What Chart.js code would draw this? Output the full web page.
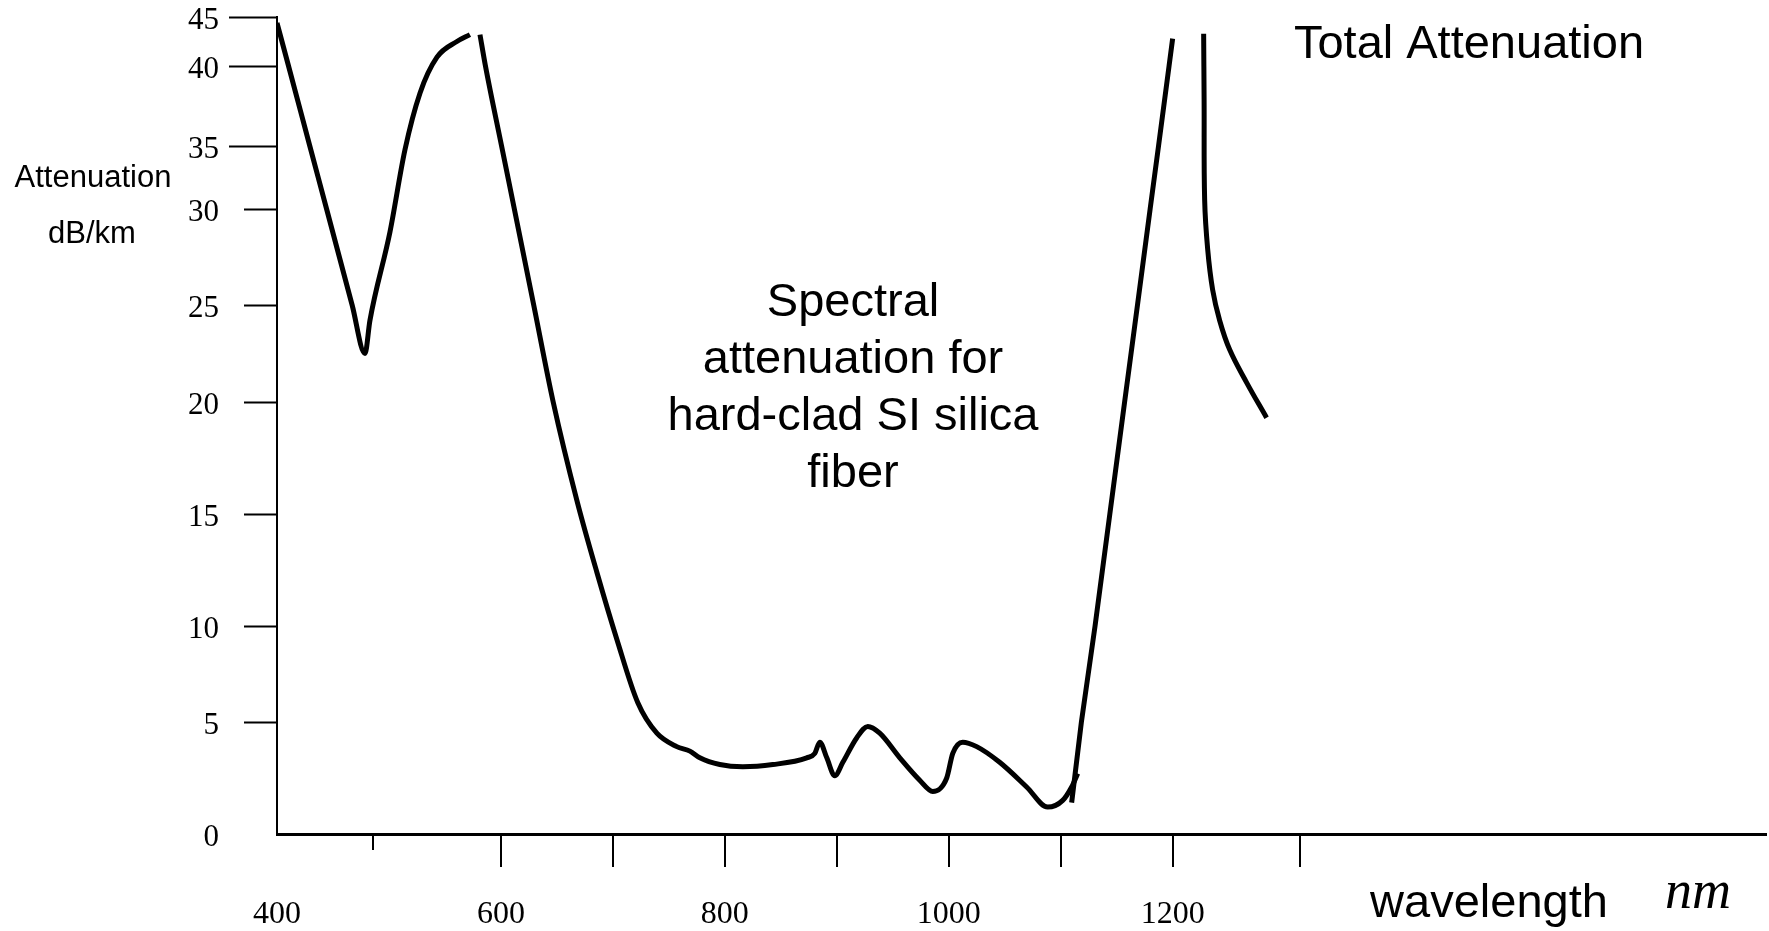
<!DOCTYPE html>
<html>
<head>
<meta charset="utf-8">
<script src="https://cdn.jsdelivr.net/npm/chart.js@4/dist/chart.umd.min.js"></script>
<style>
  html, body { margin: 0; padding: 0; background: #fff; }
  canvas { display: block; }
</style>
</head>
<body>
<canvas id="chart" width="1769" height="931"></canvas>
<script>
// values: wavelength in nm, attenuation in dB/km
const uvWavelength = [400, 410.3, 429.3, 444.3, 467.1, 478.6, 483, 500.9, 514.3, 527.7, 542.9, 560.7, 572.3]
const uvAttenuation = [44.4, 40, 35, 30, 25, 22.5, 24.2, 28.8, 34.7, 38.3, 40.9, 42.5, 43.2]

const mainWavelength = [581.3, 586.2, 600.6, 612, 629.3, 646.7, 667.9, 685.7, 703.6, 722.3, 739.3, 757.1,
  768.8, 777.7, 795.5, 816.1, 842.9, 873.2, 880.4, 884.8, 891.1, 898.2, 905.4, 917.9, 927.7, 938.4,
  956.3, 974.1, 985.7, 998.2, 1003.6, 1012.5, 1025, 1045.5, 1069.6, 1088.4, 1101.8, 1109.8, 1115.2]
const mainAttenuation = [43.2, 40, 35, 30, 25, 20, 15.6, 12.4, 9.3, 6.0, 4.5, 3.9,
  3.7, 3.4, 3.1, 3.0, 3.1, 3.4, 3.6, 4.1, 3.4, 2.6, 3.2, 4.3, 4.8, 4.5,
  3.4, 2.4, 1.9, 2.5, 3.6, 4.1, 3.9, 3.2, 2.1, 1.2, 1.5, 2.1, 2.7]

const irWavelength = [1109.8, 1118.5, 1130.7, 1143.9, 1157.1, 1168.6, 1179.9, 1187.4, 1196.8, 1200]
const irAttenuation = [1.4, 5, 10, 15, 20, 25, 30, 35, 40, 42.8]

const ohWavelength = [1227.7, 1228.1, 1228.6, 1231.3, 1235.7, 1242, 1250.9, 1266.1, 1283.9]
const ohAttenuation = [43.3, 37.9, 30.7, 27.9, 25.8, 24.2, 22.7, 21, 19.3]

const yTicks = [0, 5, 10, 15, 20, 25, 30, 35, 40, 45]
const xLabels = [400, 600, 800, 1000, 1200]
const xTickMarks = [486, 600, 700, 800, 900, 1000, 1100, 1200, 1314]

// the hand-drawn y axis is not evenly spaced: where each tick sits, as a fraction of the axis
const yAxisStops = [0, 0.1371, 0.2546, 0.3917, 0.5288, 0.6475, 0.765, 0.8421, 0.94, 1]

const interp = (v, from, to) => {
  let i = 1
  while (i < from.length - 1 && v > from[i]) i++
  const t = (v - from[i - 1]) / (from[i] - from[i - 1])
  return to[i - 1] + t * (to[i] - to[i - 1])
}

class WarpedScale extends Chart.LinearScale {
  static id = 'warped'
  getPixelForValue (value) {
    if (value === null || value === undefined) return NaN
    return this.getPixelForDecimal(interp(value, yTicks, yAxisStops))
  }
  getValueForPixel (pixel) {
    return interp(this.getDecimalForPixel(pixel), yAxisStops, yTicks)
  }
}
Chart.register(WarpedScale)

const toPoints = (xs, ys) => xs.map((x, i) => ({ x, y: ys[i] }))

// mode: 'monotone', 'spline' or 'straight'
const curve = (label, xs, ys, mode = 'monotone') => ({
  label,
  data: toPoints(xs, ys),
  borderColor: '#000',
  borderWidth: 5,
  pointRadius: 0,
  fill: false,
  tension: mode === 'straight' ? 0 : 0.4,
  cubicInterpolationMode: mode === 'monotone' ? 'monotone' : 'default'
})

// tick marks of the figure do not line up with its labels, so they are drawn apart
const tickMarks = {
  id: 'tickMarks',
  afterDraw (chart) {
    const { ctx, scales: { x, y } } = chart
    ctx.save()
    ctx.strokeStyle = '#000'
    ctx.lineWidth = 2
    ctx.beginPath()
    yTicks.forEach(v => {
      if (v === 0) return
      const py = Math.round(y.getPixelForValue(v)) + 0.5
      const len = v >= 35 ? 48 : 33
      ctx.moveTo(y.right - len, py)
      ctx.lineTo(y.right, py)
    })
    xTickMarks.forEach((v, i) => {
      const px = Math.round(x.getPixelForValue(v))
      const len = i === 0 ? 16 : 33
      ctx.moveTo(px, x.top)
      ctx.lineTo(px, x.top + len)
    })
    ctx.stroke()
    ctx.restore()
  }
}

const notes = {
  id: 'notes',
  afterDraw (chart) {
    const { ctx } = chart
    const sans = '"Liberation Sans", Arial, sans-serif'
    ctx.save()
    ctx.fillStyle = '#000'
    ctx.textAlign = 'center'
    ctx.textBaseline = 'alphabetic'
    ctx.font = '31px ' + sans
    ctx.fillText('Attenuation', 93, 187)
    ctx.fillText('dB/km', 92, 243)
    ctx.font = '47px ' + sans
    const lines = ['Spectral', 'attenuation for', 'hard-clad SI silica', 'fiber']
    lines.forEach((t, i) => ctx.fillText(t, 853, 316 + i * 57))
    ctx.fillText('Total Attenuation', 1469, 58)
    ctx.fillText('wavelength', 1489, 917)
    ctx.font = 'italic 54px "Liberation Serif", "Times New Roman", serif'
    ctx.fillText('nm', 1698, 908)
    ctx.restore()
  }
}

new Chart(document.getElementById('chart'), {
  type: 'line',
  data: {
    datasets: [
      curve('UV edge', uvWavelength, uvAttenuation),
      curve('Spectral attenuation', mainWavelength, mainAttenuation),
      curve('IR edge', irWavelength, irAttenuation, 'straight'),
      curve('Total attenuation', ohWavelength, ohAttenuation, 'spline')
    ]
  },
  options: {
    responsive: false,
    animation: false,
    layout: { padding: { top: 17, right: 3, left: 0, bottom: 0 } },
    plugins: {
      legend: { display: false },
      tooltip: { enabled: false }
    },
    scales: {
      x: {
        type: 'linear',
        min: 400,
        max: 1730,
        grid: { display: false, drawTicks: false },
        border: { display: true, color: '#000', width: 3 },
        afterBuildTicks: scale => { scale.ticks = xLabels.map(value => ({ value })) },
        afterFit: scale => {
          scale.height = 97
          scale.paddingLeft = 0
          scale.paddingRight = 0
        },
        ticks: {
          color: '#000',
          padding: 61,
          maxRotation: 0,
          autoSkip: false,
          font: { family: '"Liberation Serif", "Times New Roman", serif', size: 32 },
          callback: value => String(value)
        }
      },
      y: {
        type: 'warped',
        min: 0,
        max: 45,
        grid: { display: false, drawTicks: false },
        border: { display: true, color: '#000', width: 2 },
        afterBuildTicks: scale => { scale.ticks = yTicks.map(value => ({ value })) },
        afterFit: scale => {
          scale.width = 277
          scale.paddingTop = 0
          scale.paddingBottom = 0
        },
        ticks: {
          color: '#000',
          padding: 58,
          labelOffset: 4,
          autoSkip: false,
          font: { family: '"Liberation Serif", "Times New Roman", serif', size: 31 },
          callback: value => String(value)
        }
      }
    }
  },
  plugins: [tickMarks, notes]
})
</script>
</body>
</html>
